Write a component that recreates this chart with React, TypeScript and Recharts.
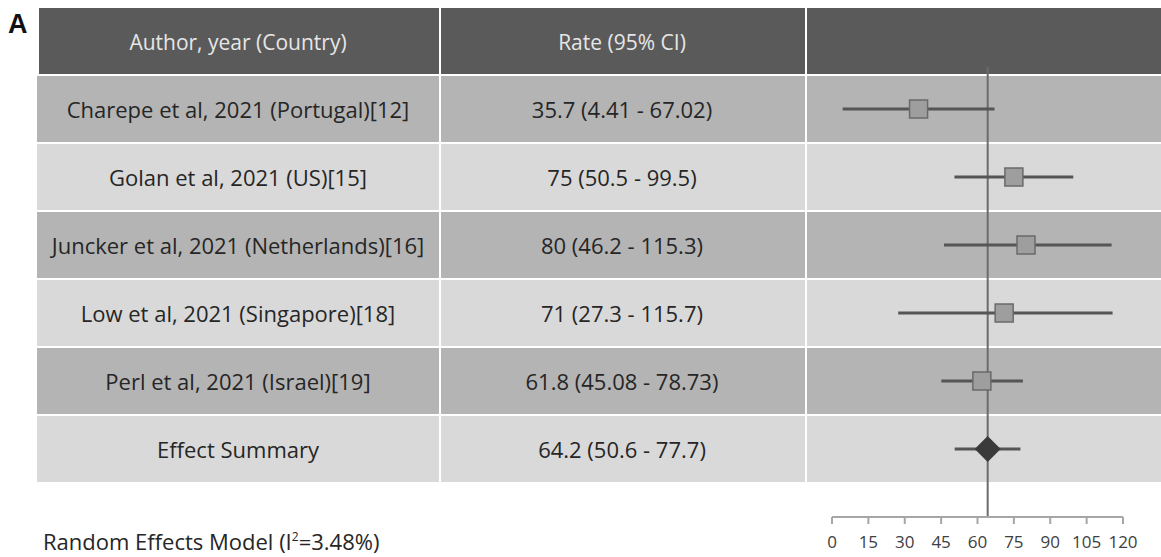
import React from "react";
import { ScatterChart, Scatter, XAxis, YAxis, ErrorBar, ReferenceLine, ReferenceArea } from "recharts";

const studies = [
  "Charepe et al, 2021 (Portugal)[12]",
  "Golan et al, 2021 (US)[15]",
  "Juncker et al, 2021 (Netherlands)[16]",
  "Low et al, 2021 (Singapore)[18]",
  "Perl et al, 2021 (Israel)[19]",
];
const rateLabels = [
  "35.7 (4.41 - 67.02)",
  "75 (50.5 - 99.5)",
  "80 (46.2 - 115.3)",
  "71 (27.3 - 115.7)",
  "61.8 (45.08 - 78.73)",
];
const rates = [35.7, 75, 80, 71, 61.8];
const lower = [4.41, 50.5, 46.2, 27.3, 45.08];
const upper = [67.02, 99.5, 115.3, 115.7, 78.73];

const summaryLabel = "Effect Summary";
const summaryRateLabel = "64.2 (50.6 - 77.7)";
const summaryRate = 64.2;
const summaryLower = 50.6;
const summaryUpper = 77.7;

const xTicks = [0, 15, 30, 45, 60, 75, 90, 105, 120];

const studyData = rates.map((r, i) => ({ row: i, rate: r, err: [r - lower[i], upper[i] - r] }));
const summaryData = [
  { row: studies.length, rate: summaryRate, err: [summaryRate - summaryLower, summaryUpper - summaryRate] },
];
const rowTicks = [-1, ...studies.map((_, i) => i), studies.length];

const FONT = "'Open Sans', Lato, sans-serif";
const HEADER = "#5a5a5a";
const DARK = "#b4b4b4";
const LIGHT = "#d9d9d9";
const rowFill = (v: number) => (v === -1 ? HEADER : v % 2 === 0 ? DARK : LIGHT);
const HALF = 66 / 136; // half row height in row units (66px cell, 68px pitch)

// table rows drawn as y-axis ticks so they line up with the plot rows;
// the part of column 3 under the plot is a ReferenceArea (drawn below the marks)
const RowTick = (props: any) => {
  const { y, payload } = props;
  const v = payload.value as number;
  const h = 66;
  const top = y - h / 2;
  const fill = rowFill(v);
  const header = v === -1;
  const name = header ? "Author, year (Country)" : v < studies.length ? studies[v] : summaryLabel;
  const rate = header ? "Rate (95% CI)" : v < studies.length ? rateLabels[v] : summaryRateLabel;
  const color = header ? "#e6e6e6" : "#262626";
  return (
    <g>
      <rect x={header ? 39 : 37} y={top} width={header ? 400 : 402} height={h} fill={fill} />
      <rect x={441} y={top} width={364} height={h} fill={fill} />
      <rect x={807} y={top} width={25} height={h} fill={fill} />
      <rect x={1123} y={top} width={38} height={h} fill={fill} />
      <text x={238} y={y + 9} textAnchor="middle" fill={color} fontSize={header ? 21 : 22} fontFamily={FONT}>
        {name}
      </text>
      <text x={622} y={y + 9} textAnchor="middle" fill={color} fontSize={header ? 21 : 22} fontFamily={FONT}>
        {rate}
      </text>
    </g>
  );
};

const Square = (props: any) => {
  const { cx, cy } = props;
  return <rect x={cx - 9} y={cy - 9} width={18} height={18} fill="#9e9e9e" stroke="#6a6a6a" strokeWidth={1.5} />;
};

const Diamond = (props: any) => {
  const { cx, cy } = props;
  return <polygon points={`${cx - 13},${cy} ${cx},${cy - 13} ${cx + 13},${cy} ${cx},${cy + 13}`} fill="#3a3a3a" />;
};

export default function App() {
  return (
    <div style={{ position: "absolute", left: 0, top: 0, width: 1161, height: 557, background: "#fff" }}>
      <ScatterChart width={1161} height={557} margin={{ top: 7, right: 38, bottom: 0, left: 0 }}>
        <YAxis
          type="number"
          dataKey="row"
          domain={[-1.5, 6]}
          reversed
          ticks={rowTicks}
          interval={0}
          width={832}
          axisLine={false}
          tickLine={false}
          tick={<RowTick />}
        />
        <XAxis
          type="number"
          dataKey="rate"
          domain={[0, 120]}
          ticks={xTicks}
          interval={0}
          height={40}
          axisLine={{ stroke: "#a6a6a6", strokeWidth: 2 }}
          tickLine={{ stroke: "#a6a6a6", strokeWidth: 2 }}
          tickSize={7}
          tickMargin={12}
          tick={{ fill: "#404040", fontSize: 17, fontFamily: FONT }}
        />
        {rowTicks.map((v) => (
          <ReferenceArea key={v} y1={v - HALF} y2={v + HALF} fill={rowFill(v)} fillOpacity={1} stroke="none" />
        ))}
        <ReferenceLine
          segment={[
            { x: summaryRate, y: -0.62 },
            { x: summaryRate, y: 6 },
          ]}
          stroke="#6b6b6b"
          strokeWidth={2}
          ifOverflow="visible"
        />
        <Scatter data={studyData} shape={<Square />} isAnimationActive={false}>
          <ErrorBar dataKey="err" direction="x" width={0} stroke="#555" strokeWidth={3} />
        </Scatter>
        <Scatter data={summaryData} shape={<Diamond />} isAnimationActive={false}>
          <ErrorBar dataKey="err" direction="x" width={0} stroke="#555" strokeWidth={3} />
        </Scatter>
      </ScatterChart>
      <div style={{ position: "absolute", left: 8, top: 9, fontFamily: "'Liberation Sans', Arial, sans-serif", fontWeight: 700, fontSize: 27, lineHeight: "30px", color: "#111" }}>
        A
      </div>
      <div style={{ position: "absolute", left: 43, top: 526, fontFamily: FONT, fontSize: 22, lineHeight: "30px", color: "#262626", whiteSpace: "nowrap" }}>
        Random Effects Model (I<span style={{ position: "relative", top: -9, fontSize: 12 }}>2</span>=3.48%)
      </div>
    </div>
  );
}
